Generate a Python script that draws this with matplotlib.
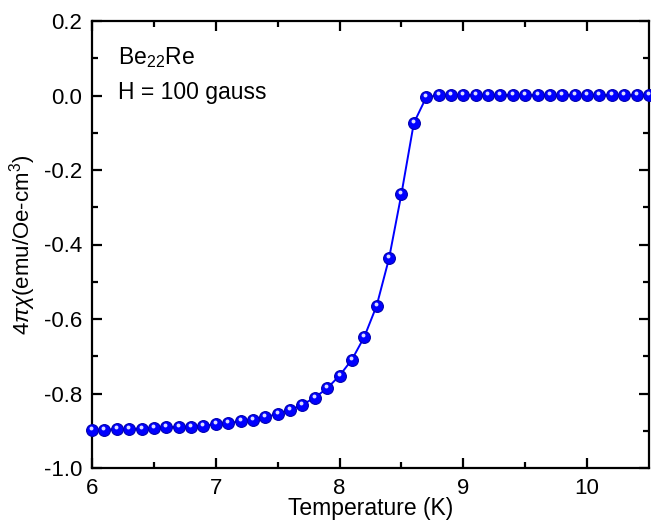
import numpy as np
import matplotlib
matplotlib.use("Agg")
import matplotlib.pyplot as plt
from matplotlib.transforms import offset_copy

plt.rcParams['font.family'] = ['Liberation Sans', 'DejaVu Sans']
plt.rcParams['axes.unicode_minus'] = False
plt.rcParams['mathtext.fontset'] = 'custom'
plt.rcParams['mathtext.rm'] = 'Liberation Sans'
plt.rcParams['mathtext.it'] = 'Liberation Sans:italic'

# temperature (K), 0.1 K steps
temperature = [6.0, 6.1, 6.2, 6.3, 6.4, 6.5, 6.6, 6.7, 6.8, 6.9,
               7.0, 7.1, 7.2, 7.3, 7.4, 7.5, 7.6, 7.7, 7.8, 7.9,
               8.0, 8.1, 8.2, 8.3, 8.4, 8.5, 8.6, 8.7, 8.8, 8.9,
               9.0, 9.1, 9.2, 9.3, 9.4, 9.5, 9.6, 9.7, 9.8, 9.9,
               10.0, 10.1, 10.2, 10.3, 10.4, 10.5]
# 4*pi*chi (emu/Oe-cm^3)
chi = [-0.897, -0.897, -0.896, -0.895, -0.894, -0.893, -0.891, -0.890, -0.889, -0.886,
       -0.883, -0.879, -0.875, -0.870, -0.864, -0.854, -0.845, -0.830, -0.811, -0.786,
       -0.752, -0.709, -0.648, -0.564, -0.437, -0.264, -0.074, -0.005, 0.001, 0.001,
       0.001, 0.001, 0.001, 0.001, 0.001, 0.001, 0.001, 0.001, 0.001, 0.001,
       0.001, 0.001, 0.001, 0.001, 0.001, 0.001]

xticks = [6, 7, 8, 9, 10]
yticks = [-1.0, -0.8, -0.6, -0.4, -0.2, 0.0, 0.2]
ytick_labels = ['-1.0', '-0.8', '-0.6', '-0.4', '-0.2', '0.0', '0.2']

fig = plt.figure(figsize=(6.51, 5.25), dpi=100)
ax = fig.add_axes([92 / 651, 57 / 525, 557 / 651, 447 / 525])

ax.plot(temperature, chi, '-', color='#0000ff', lw=1.4, zorder=2)
ax.plot(temperature, chi, 'o', ms=8.5, mfc='#0000ff', mec='#0000b0', mew=0.8,
        zorder=3, clip_on=False)
# little highlight to fake the shaded spheres
hl = offset_copy(ax.transData, fig=fig, x=-1.0, y=2.0, units='dots')
ax.plot(temperature, chi, 'o', ms=2.8, mfc='#dcdcff', mec='none',
        transform=hl, zorder=4, clip_on=False)

ax.set_xlim(6, 10.5)
ax.set_ylim(-1.0, 0.2)
ax.set_xticks(xticks)
ax.set_xticks(np.arange(6.5, 10.5, 1.0), minor=True)
ax.set_yticks(yticks)
ax.set_yticklabels(ytick_labels)
ax.set_yticks(np.arange(-0.9, 0.2, 0.2), minor=True)

for s in ax.spines.values():
    s.set_linewidth(1.6)
ax.tick_params(which='both', direction='in', top=True, right=True,
               labelsize=16, width=1.6, pad=7)
ax.tick_params(which='major', length=7)
ax.tick_params(which='minor', length=4)

ax.set_xlabel('Temperature (K)', fontsize=16.5, labelpad=-1)
ax.set_ylabel(r'4$\pi\chi$(emu/Oe-cm$^3$)', fontsize=16, labelpad=4)

ax.text(0.047, 0.904, r'Be$_{22}$Re', transform=ax.transAxes, fontsize=16.5,
        va='baseline', ha='left')
ax.text(0.047, 0.8255, 'H = 100 gauss', transform=ax.transAxes, fontsize=16.5,
        va='baseline', ha='left')

fig.savefig('out.png', dpi=100)
